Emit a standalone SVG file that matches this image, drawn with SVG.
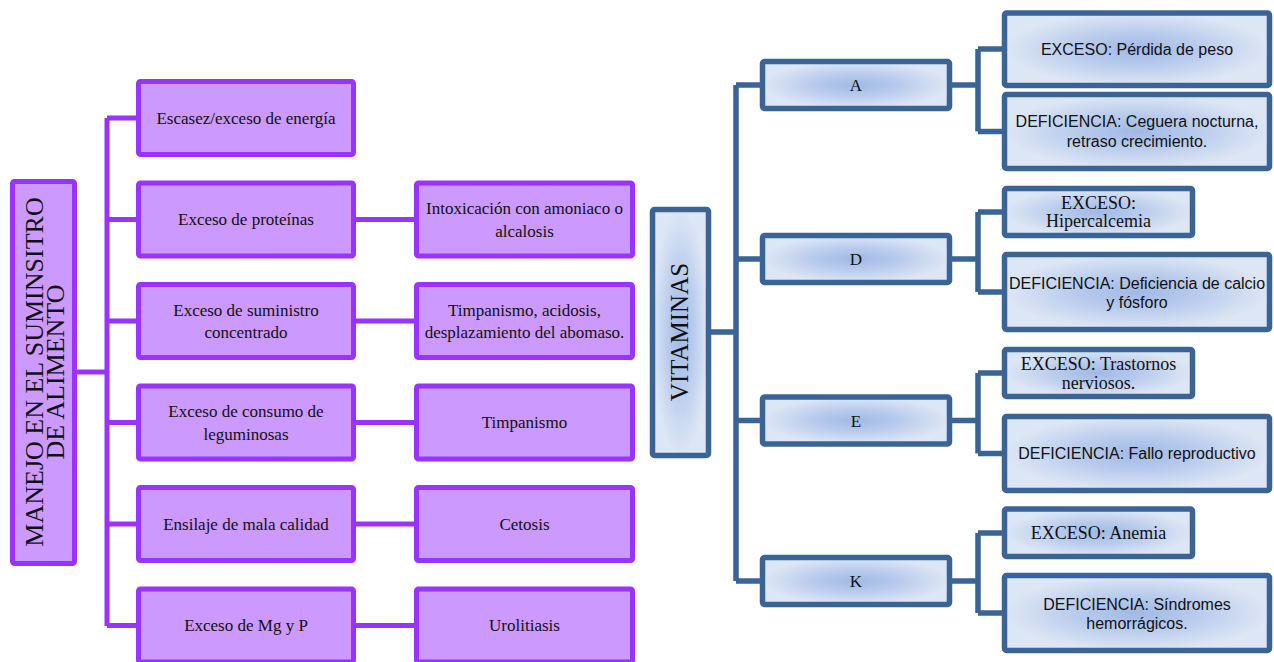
<svg xmlns="http://www.w3.org/2000/svg" width="1274" height="662" viewBox="0 0 1274 662">
  <defs>
    <radialGradient id="blueFill" cx="0.5" cy="0.5" r="0.5">
      <stop offset="0" stop-color="#a0b9e5"/>
      <stop offset="0.45" stop-color="#b8cbed"/>
      <stop offset="1" stop-color="#dde6f4"/>
    </radialGradient>
  </defs>
  <style>
    .pbox { fill: #cc99ff; stroke: #9933ff; stroke-width: 5; }
    .bbox { fill: url(#blueFill); stroke: #3a6496; stroke-width: 5.5; }
    .pline { fill: none; stroke: #9933ff; stroke-width: 5; stroke-linejoin: miter; }
    .bline { fill: none; stroke: #3a6496; stroke-width: 5.5; stroke-linejoin: miter; }
    text { fill: #111; text-anchor: middle; }
    .serif { font-family: "Liberation Serif", "Times New Roman", serif; }
    .sans { font-family: "Liberation Sans", Arial, sans-serif; font-size: 16px; }
    .s17 { font-size: 17px; }
    .s18 { font-size: 18px; }
  </style>
  <rect width="1274" height="662" fill="#ffffff"/>

  <!-- connectors -->
  <g id="connectors">
    <!-- left tree -->
    <path class="pline" d="M77 372 H107 M107 118 V626 M107 118 H137 M107 219.5 H137 M107 321 H137 M107 422.5 H137 M107 524 H137 M107 625.5 H137"/>
    <path class="pline" d="M356 219.5 H415 M356 321 H415 M356 422.5 H415 M356 524 H415 M356 625.5 H415"/>
    <!-- right tree -->
    <path class="bline" d="M711 332 H736 M736 85 V581 M736 85 H761 M736 259 H761 M736 420.5 H761 M736 581 H761"/>
    <path class="bline" d="M951 85 H978 M978 49 V131.5 M978 49 H1003 M978 131.5 H1003"/>
    <path class="bline" d="M951 259 H978 M978 212 V292 M978 212 H1003 M978 292 H1003"/>
    <path class="bline" d="M951 420.5 H978 M978 373 V453.5 M978 373 H1003 M978 453.5 H1003"/>
    <path class="bline" d="M951 581 H978 M978 533 V613 M978 533 H1003 M978 613 H1003"/>
  </g>

  <!-- title node -->
  <g id="n-manejo">
    <rect class="pbox" x="12.5" y="181.5" width="62" height="382" rx="2"/>
    <text class="serif" font-size="26" transform="translate(43 372) rotate(-90)">MANEJO EN EL SUMINSITRO</text>
    <text class="serif" font-size="26" transform="translate(64 372) rotate(-90)">DE ALIMENTO</text>
  </g>

  <!-- first column -->
  <g id="n-energia">
    <rect class="pbox" x="138.5" y="81.5" width="215" height="73" rx="2"/>
    <text class="serif s17" x="246" y="123.5">Escasez/exceso de energía</text>
  </g>
  <g id="n-proteinas">
    <rect class="pbox" x="138.5" y="183" width="215" height="73" rx="2"/>
    <text class="serif s17" x="246" y="225">Exceso de proteínas</text>
  </g>
  <g id="n-concentrado">
    <rect class="pbox" x="138.5" y="284.5" width="215" height="73" rx="2"/>
    <text class="serif s17" x="246" y="315.5">Exceso de suministro</text>
    <text class="serif s17" x="246" y="338">concentrado</text>
  </g>
  <g id="n-leguminosas">
    <rect class="pbox" x="138.5" y="386" width="215" height="73" rx="2"/>
    <text class="serif s17" x="246" y="417">Exceso de consumo de</text>
    <text class="serif s17" x="246" y="439.5">leguminosas</text>
  </g>
  <g id="n-ensilaje">
    <rect class="pbox" x="138.5" y="487.5" width="215" height="73" rx="2"/>
    <text class="serif s17" x="246" y="529.5">Ensilaje de mala calidad</text>
  </g>
  <g id="n-mgp">
    <rect class="pbox" x="138.5" y="589" width="215" height="73" rx="2"/>
    <text class="serif s17" x="246" y="631">Exceso de Mg y P</text>
  </g>

  <!-- second column -->
  <g id="n-intoxicacion">
    <rect class="pbox" x="416.5" y="183" width="216" height="73" rx="2"/>
    <text class="serif s17" x="524.5" y="214">Intoxicación con amoniaco o</text>
    <text class="serif s17" x="524.5" y="236.5">alcalosis</text>
  </g>
  <g id="n-timpanismo-acidosis">
    <rect class="pbox" x="416.5" y="284.5" width="216" height="73" rx="2"/>
    <text class="serif s17" x="524.5" y="315.5">Timpanismo, acidosis,</text>
    <text class="serif s17" x="524.5" y="338">desplazamiento del abomaso.</text>
  </g>
  <g id="n-timpanismo">
    <rect class="pbox" x="416.5" y="386" width="216" height="73" rx="2"/>
    <text class="serif s17" x="524.5" y="428">Timpanismo</text>
  </g>
  <g id="n-cetosis">
    <rect class="pbox" x="416.5" y="487.5" width="216" height="73" rx="2"/>
    <text class="serif s17" x="524.5" y="529.5">Cetosis</text>
  </g>
  <g id="n-urolitiasis">
    <rect class="pbox" x="416.5" y="589" width="216" height="73" rx="2"/>
    <text class="serif s17" x="524.5" y="631">Urolitiasis</text>
  </g>

  <!-- vitamins root -->
  <g id="n-vitaminas">
    <rect class="bbox" x="652.5" y="209.5" width="56" height="246" rx="2"/>
    <text class="serif" font-size="25" transform="translate(688 332) rotate(-90)">VITAMINAS</text>
  </g>

  <!-- vitamin nodes -->
  <g id="n-a">
    <rect class="bbox" x="762.5" y="61.5" width="187" height="47" rx="2"/>
    <text class="serif s17" x="856" y="91">A</text>
  </g>
  <g id="n-d">
    <rect class="bbox" x="762.5" y="235.5" width="187" height="47" rx="2"/>
    <text class="serif s17" x="856" y="265">D</text>
  </g>
  <g id="n-e">
    <rect class="bbox" x="762.5" y="397" width="187" height="47" rx="2"/>
    <text class="serif s17" x="856" y="426.5">E</text>
  </g>
  <g id="n-k">
    <rect class="bbox" x="762.5" y="557.5" width="187" height="47" rx="2"/>
    <text class="serif s17" x="856" y="587">K</text>
  </g>

  <!-- effects -->
  <g id="n-a-exceso">
    <rect class="bbox" x="1004.5" y="13" width="265" height="72.5" rx="2"/>
    <text class="sans" x="1137" y="54.5">EXCESO: Pérdida de peso</text>
  </g>
  <g id="n-a-deficiencia">
    <rect class="bbox" x="1004.5" y="94.5" width="265" height="74" rx="2"/>
    <text class="sans" x="1137" y="127">DEFICIENCIA: Ceguera nocturna,</text>
    <text class="sans" x="1137" y="146.5">retraso crecimiento.</text>
  </g>
  <g id="n-d-exceso">
    <rect class="bbox" x="1004.5" y="188.5" width="188" height="47" rx="2"/>
    <text class="serif s18" x="1098.5" y="209">EXCESO:</text>
    <text class="serif s18" x="1098.5" y="227">Hipercalcemia</text>
  </g>
  <g id="n-d-deficiencia">
    <rect class="bbox" x="1004.5" y="254.5" width="265" height="75" rx="2"/>
    <text class="sans" x="1137" y="288.5">DEFICIENCIA: Deficiencia de calcio</text>
    <text class="sans" x="1137" y="307.5">y fósforo</text>
  </g>
  <g id="n-e-exceso">
    <rect class="bbox" x="1004.5" y="349.5" width="188" height="47" rx="2"/>
    <text class="serif s18" x="1098.5" y="370">EXCESO: Trastornos</text>
    <text class="serif s18" x="1098.5" y="388.5">nerviosos.</text>
  </g>
  <g id="n-e-deficiencia">
    <rect class="bbox" x="1004.5" y="416.5" width="265" height="74" rx="2"/>
    <text class="sans" x="1137" y="459">DEFICIENCIA: Fallo reproductivo</text>
  </g>
  <g id="n-k-exceso">
    <rect class="bbox" x="1004.5" y="509" width="188" height="47.5" rx="2"/>
    <text class="serif s18" x="1098.5" y="539">EXCESO: Anemia</text>
  </g>
  <g id="n-k-deficiencia">
    <rect class="bbox" x="1004.5" y="575.5" width="265" height="75" rx="2"/>
    <text class="sans" x="1137" y="609.5">DEFICIENCIA: Síndromes</text>
    <text class="sans" x="1137" y="629">hemorrágicos.</text>
  </g>
</svg>
